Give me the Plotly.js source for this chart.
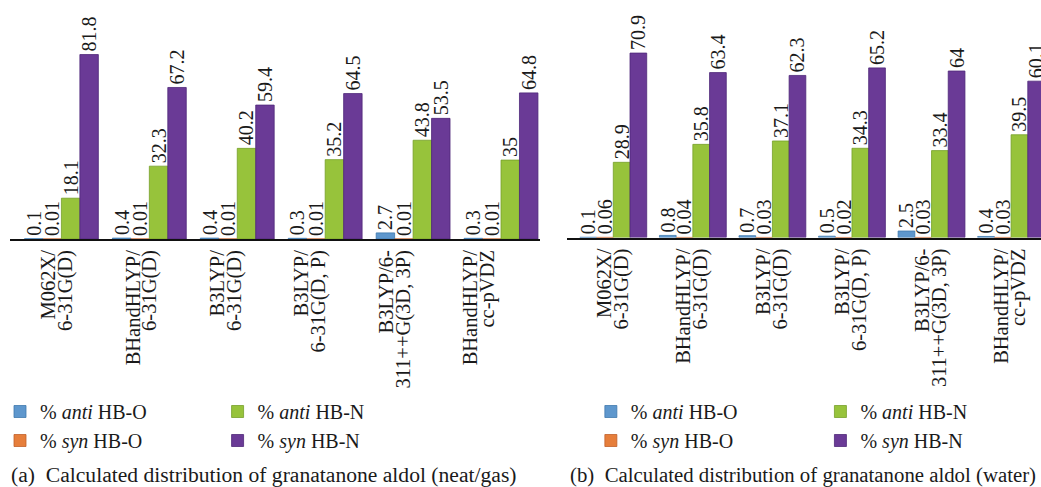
<!DOCTYPE html>
<html>
<head>
<meta charset="utf-8">
<script src="https://cdn.plot.ly/plotly-3.0.1.min.js"></script>
<style>
  html, body { margin: 0; padding: 0; background: #fff; overflow: hidden; }
  #chart { width: 1041px; height: 487px; }
</style>
</head>
<body>
<div id="chart"></div>
<script>
// Method / basis-set combinations (shared by both panels)
const methods = [
  'M062X/6-31G(D)',
  'BHandHLYP/6-31G(D)',
  'B3LYP/6-31G(D)',
  'B3LYP/6-31G(D, P)',
  'B3LYP/6-311++G(3D, 3P)',
  'BHandHLYP/cc-pVDZ'
];
// the same labels, broken over two lines for the rotated axis text
const methodLine1 = ['M062X/', 'BHandHLYP/', 'B3LYP/', 'B3LYP/', 'B3LYP/6-', 'BHandHLYP/'];
const methodLine2 = ['6-31G(D)', '6-31G(D)', '6-31G(D)', '6-31G(D, P)', '311++G(3D, 3P)', 'cc-pVDZ'];

const seriesNames = [
  '% <i>anti</i> HB-O',
  '% <i>syn</i> HB-O',
  '% <i>anti</i> HB-N',
  '% <i>syn</i> HB-N'
];

// (a) neat / gas phase distribution, %
const gasAntiO = [0.1, 0.4, 0.4, 0.3, 2.7, 0.3];
const gasSynO  = [0.01, 0.01, 0.01, 0.01, 0.01, 0.01];
const gasAntiN = [18.1, 32.3, 40.2, 35.2, 43.8, 35];
const gasSynN  = [81.8, 67.2, 59.4, 64.5, 53.5, 64.8];

// (b) water distribution, %
const watAntiO = [0.1, 0.8, 0.7, 0.5, 2.5, 0.4];
const watSynO  = [0.06, 0.04, 0.03, 0.02, 0.03, 0.03];
const watAntiN = [28.9, 35.8, 37.1, 34.3, 33.4, 39.5];
const watSynN  = [70.9, 63.4, 62.3, 65.2, 64, 60.1];

const colors = ['#5e97cd', '#e67e3b', '#97c33b', '#6a3a96'];
const edges  = ['#3f78ad', '#c0602a', '#76a02a', '#4e2778'];

const W = 1041, H = 487;
const SERIF = '"Liberation Serif", "DejaVu Serif", serif';
const px = v => v / W;
const py = v => (H - v) / H;
const idx = methods.map((_, i) => i);

function barTrace(vals, i, xa, ya, legendId) {
  return {
    type: 'bar',
    name: seriesNames[i],
    x: idx,
    y: vals,
    xaxis: xa,
    yaxis: ya,
    legend: legendId,
    text: vals.map(String),
    textposition: 'outside',
    textangle: -90,
    constraintext: 'none',
    cliponaxis: false,
    textfont: { family: SERIF, size: 20, color: '#1a1a1a' },
    marker: { color: colors[i], line: { color: edges[i], width: 0.8 } },
    customdata: methods,
    hovertemplate: '%{customdata}: %{y}<extra>%{fullData.name}</extra>'
  };
}

const gasSets = [gasAntiO, gasSynO, gasAntiN, gasSynN];
const watSets = [watAntiO, watSynO, watAntiN, watSynN];
// two legend columns per panel: HB-O series left, HB-N series right
const legendIds = [['legend', 'legend3'], ['legend2', 'legend4']];

const traces = [];
gasSets.forEach((v, i) => traces.push(barTrace(v, i, 'x', 'y', legendIds[i < 2 ? 0 : 1][0])));
watSets.forEach((v, i) => traces.push(barTrace(v, i, 'x2', 'y2', legendIds[i < 2 ? 0 : 1][1])));

// invisible carriers so that the label axes are laid out
['x3', 'x4'].forEach(xa => traces.push({
  type: 'scatter', mode: 'markers', x: idx, y: idx.map(() => null),
  xaxis: xa, yaxis: 'y', showlegend: false, hoverinfo: 'skip'
}));
['x5', 'x6'].forEach(xa => traces.push({
  type: 'scatter', mode: 'markers', x: idx, y: idx.map(() => null),
  xaxis: xa, yaxis: 'y2', showlegend: false, hoverinfo: 'skip'
}));

const tickFont = { family: SERIF, size: 20.5, color: '#1a1a1a' };
const legFont = { family: SERIF, size: 20, color: '#1a1a1a' };

function labelAxis(over, anchor, range, lines) {
  return {
    overlaying: over, anchor: anchor, side: 'bottom',
    range: range, tickmode: 'array', tickvals: idx, ticktext: lines,
    tickangle: -90, tickfont: tickFont, ticks: '',
    showgrid: false, zeroline: false, showline: false,
    ticklabelstandoff: 6, fixedrange: true
  };
}

function legendAt(xPx, yPx) {
  return {
    x: px(xPx), y: py(yPx), xanchor: 'left', yanchor: 'top',
    orientation: 'v', font: legFont, bgcolor: 'rgba(0,0,0,0)',
    tracegroupgap: 0, itemclick: false, itemdoubleclick: false
  };
}

const layout = {
  width: W, height: H,
  margin: { l: 0, r: 0, t: 0, b: 0 },
  paper_bgcolor: '#fff', plot_bgcolor: '#fff',
  barmode: 'group', bargap: 0.16, bargroupgap: 0,
  font: { family: SERIF, color: '#1a1a1a' },
  // bar positions, panel (a)
  xaxis: {
    domain: [px(8), px(539)], anchor: 'y',
    range: [-0.585, 5.443],
    showticklabels: false, ticks: '', showgrid: false, zeroline: false,
    showline: true, linecolor: '#111', linewidth: 2, fixedrange: true
  },
  yaxis: {
    domain: [py(239), 1], range: [0, 106], visible: false, fixedrange: true
  },
  // bar positions, panel (b)
  xaxis2: {
    domain: [px(566), 1], anchor: 'y2',
    range: [-0.583, 5.376],
    showticklabels: false, ticks: '', showgrid: false, zeroline: false,
    showline: true, linecolor: '#111', linewidth: 2, fixedrange: true
  },
  yaxis2: {
    domain: [py(237.5), 1], range: [0, 91.3], visible: false, fixedrange: true
  },
  // two-line method labels
  xaxis3: labelAxis('x', 'y', [-0.4551, 5.8217], methodLine1),
  xaxis4: labelAxis('x', 'y', [-0.6560, 5.6210], methodLine2),
  xaxis5: labelAxis('x2', 'y2', [-0.4711, 5.4959], methodLine1),
  xaxis6: labelAxis('x2', 'y2', [-0.6847, 5.2823], methodLine2),
  showlegend: true,
  legend: legendAt(-2, 392),
  legend2: legendAt(216, 392),
  legend3: legendAt(590, 392),
  legend4: legendAt(820, 392),
  annotations: [
    {
      xref: 'paper', yref: 'paper', x: px(7), y: py(475),
      xanchor: 'left', yanchor: 'middle', showarrow: false,
      text: '(a)  Calculated distribution of granatanone aldol (neat/gas)',
      font: { family: SERIF, size: 21.6, color: '#1a1a1a' }
    },
    {
      xref: 'paper', yref: 'paper', x: px(567), y: py(475),
      xanchor: 'left', yanchor: 'middle', showarrow: false,
      text: '(b)  Calculated distribution of granatanone aldol (water)',
      font: { family: SERIF, size: 20.8, color: '#1a1a1a' }
    }
  ]
};

Plotly.newPlot('chart', traces, layout, { displayModeBar: false, staticPlot: true });
</script>
</body>
</html>
